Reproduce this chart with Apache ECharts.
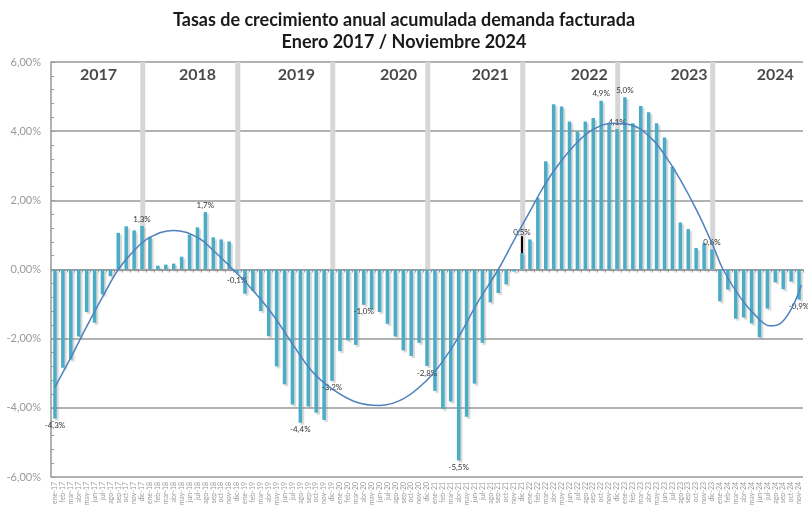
<!DOCTYPE html>
<html>
<head>
<meta charset="utf-8">
<script src="https://cdn.jsdelivr.net/npm/echarts@6/dist/echarts.min.js"></script>
<style>
  html, body { margin: 0; padding: 0; background: #fff; }
  #main { width: 808px; height: 515px; }
</style>
</head>
<body>
<div id="main"></div>
<script>
// datos
var meses = ['ene', 'feb', 'mar', 'abr', 'may', 'jun', 'jul', 'ago', 'sep', 'oct', 'nov', 'dic'];
var anios = ['2017', '2018', '2019', '2020', '2021', '2022', '2023', '2024'];

// tasa anual acumulada (%), ene-17 .. nov-24
var demanda = [
  -4.31, -2.84, -2.60, -1.94, -1.23, -1.54, -0.72, -0.19, 1.06, 1.25, 1.13, 1.26,
  0.95, 0.11, 0.14, 0.17, 0.37, 1.01, 1.22, 1.66, 0.93, 0.87, 0.81, -0.10,
  -0.70, -0.62, -1.20, -1.93, -2.80, -3.32, -3.90, -4.43, -3.96, -4.14, -4.35, -3.22,
  -2.36, -2.05, -2.18, -1.02, -1.15, -1.23, -1.57, -1.94, -2.34, -2.50, -2.12, -2.79,
  -3.51, -4.03, -3.82, -5.52, -4.26, -3.30, -2.12, -0.95, -0.68, -0.43, -0.06, 0.47,
  0.87, 2.07, 3.13, 4.78, 4.71, 4.28, 3.99, 4.28, 4.38, 4.88, 4.23, 4.06,
  4.98, 4.23, 4.73, 4.55, 4.23, 3.82, 2.98, 1.36, 1.17, 0.62, 0.76, 0.58,
  -0.92, -0.58, -1.42, -1.39, -1.56, -1.96, -1.13, -0.37, -0.57, -0.35, -0.87
];

// linea de tendencia [mes, %]
var tendencia = [
  [0, -3.4], [2, -2.55], [4, -1.65], [6, -0.8], [8, 0], [10, 0.55], [12, 0.93], [15, 1.13],
  [18, 0.93], [20, 0.55], [22.5, 0], [25, -0.6], [27.5, -1.3], [30, -2.15], [32.5, -2.95],
  [35, -3.45], [38, -3.83], [41, -3.93], [44, -3.74], [47, -3.2], [49, -2.65], [51, -1.95],
  [53.4, -0.95], [56, 0], [58, 0.85], [60, 1.68], [62, 2.5], [64, 3.15], [66, 3.68],
  [68, 4.05], [70.5, 4.23], [72.8, 4.18], [75.3, 3.8], [77, 3.32], [79, 2.6], [81.2, 1.65],
  [83.2, 0.65], [84.4, 0], [86.7, -0.85], [88.8, -1.4], [90.3, -1.63], [91.5, -1.58],
  [93, -1.15], [94.3, -0.45]
];

// meses con etiqueta de valor
var etiquetados = [0, 11, 19, 23, 31, 35, 39, 47, 51, 59, 69, 71, 72, 83, 94];

// posicion (en meses) de los textos de año
var posAnio = [5.5, 18, 30.5, 43.4, 55, 67.5, 80.1, 91];

var categorias = [];
anios.forEach(function (a) {
  meses.forEach(function (m) {
    if (categorias.length < demanda.length) categorias.push(m + '-' + a.slice(2));
  });
});

function pct(v, d) {
  return v.toFixed(d).replace('.', ',') + '%';
}

var barras = demanda.map(function (v, i) {
  if (etiquetados.indexOf(i) < 0) return v;
  var item = { value: v, label: { show: true, position: v < 0 ? 'bottom' : 'top', distance: 3 } };
  if (i === 59) {
    item.labelLine = { show: true, lineStyle: { color: '#000', width: 2 } };
  }
  return item;
});

var bandas = categorias.map(function (c) {
  return c.indexOf('dic') === 0 ? 6 : '-';
});

var textosAnio = anios.map(function (a, k) {
  return [posAnio[k], 5.64, a];
});

var option = {
  animation: false,
  backgroundColor: '#fff',
  textStyle: { fontFamily: 'Lato, sans-serif' },
  title: {
    text: 'Tasas de crecimiento anual acumulada demanda facturada\nEnero 2017 / Noviembre 2024',
    left: 'center',
    top: 4,
    textStyle: { fontSize: 18, fontWeight: 'bold', color: '#1a1a1a', lineHeight: 22, fontFamily: 'Lato' }
  },
  grid: { left: 51, right: 5, top: 62, bottom: 38 },
  xAxis: [
    {
      type: 'category',
      data: categorias,
      position: 'bottom',
      axisLine: { show: false, onZero: false },
      axisTick: { show: false },
      axisLabel: { interval: 0, rotate: 90, fontSize: 7, color: '#9a9a9a', margin: 5 }
    },
    {
      type: 'category',
      data: categorias,
      position: 'bottom',
      axisLine: { onZero: true, lineStyle: { color: '#999', width: 1.5 } },
      axisTick: { show: true, interval: 0, length: 3, lineStyle: { color: '#999' } },
      axisLabel: { show: false }
    },
    {
      type: 'value',
      min: -0.5,
      max: 94.5,
      show: false
    }
  ],
  yAxis: {
    type: 'value',
    min: -6,
    max: 6,
    interval: 2,
    axisLine: { show: true, onZero: false, lineStyle: { color: '#999', width: 1.5 } },
    axisTick: { show: true, inside: true, length: 4, lineStyle: { color: '#999' } },
    minorTick: { show: true, splitNumber: 5, length: 3, lineStyle: { color: '#999' } },
    axisLabel: {
      fontSize: 11, color: '#999', margin: 10,
      formatter: function (v) { return pct(v, 2); }
    },
    splitLine: { show: true, lineStyle: { color: '#999', width: 1.5 } }
  },
  series: [
    {
      name: 'fin de año',
      type: 'bar',
      xAxisIndex: 0,
      data: bandas,
      barWidth: 5,
      barGap: '-100%',
      silent: true,
      itemStyle: { color: '#d6d6d6' },
      z: 1
    },
    {
      name: 'demanda',
      type: 'bar',
      xAxisIndex: 0,
      data: barras,
      barWidth: 3.5,
      barGap: '-100%',
      itemStyle: {
        color: '#4bacc6',
        shadowColor: 'rgba(140,140,140,0.35)',
        shadowBlur: 1,
        shadowOffsetX: 2,
        shadowOffsetY: 2
      },
      label: {
        fontSize: 8,
        color: '#333',
        formatter: function (p) { return pct(p.value, 1); }
      },
      labelLayout: function (p) {
        if (p.dataIndex === 59) return { dy: -14 };
      },
      z: 2
    },
    {
      name: 'tendencia',
      type: 'line',
      xAxisIndex: 2,
      data: tendencia,
      smooth: 0.4,
      showSymbol: false,
      lineStyle: { color: '#4f81bd', width: 1.5 },
      z: 3
    },
    {
      name: 'años',
      type: 'scatter',
      xAxisIndex: 2,
      data: textosAnio,
      symbolSize: 0,
      silent: true,
      label: {
        show: true,
        position: 'inside',
        fontSize: 16,
        fontWeight: 'bold',
        color: '#1a1a1a',
        formatter: function (p) { return p.value[2]; }
      },
      z: 4
    }
  ]
};

echarts.init(document.getElementById('main')).setOption(option);
</script>
</body>
</html>
